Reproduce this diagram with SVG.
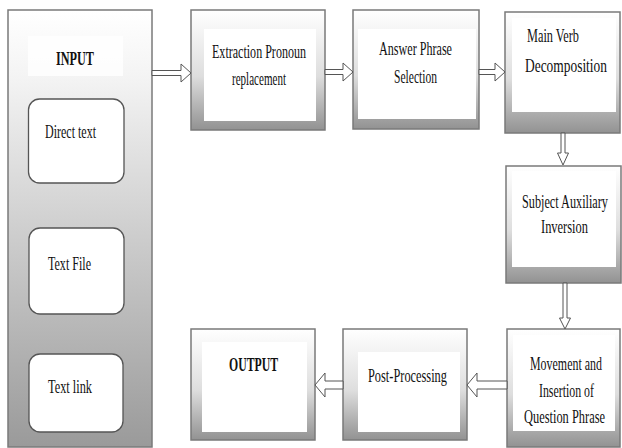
<svg xmlns="http://www.w3.org/2000/svg" width="622" height="448" viewBox="0 0 622 448">
<defs>
<linearGradient id="g" x1="0" y1="0" x2="0" y2="1">
<stop offset="0" stop-color="#ffffff"/>
<stop offset="0.55" stop-color="#dedede"/>
<stop offset="1" stop-color="#929292"/>
</linearGradient>
<linearGradient id="gi" x1="0" y1="0" x2="0" y2="1">
<stop offset="0" stop-color="#ffffff"/>
<stop offset="0.15" stop-color="#f4f4f4"/>
<stop offset="1" stop-color="#9a9a9a"/>
</linearGradient>
<style>
.box{fill:url(#g);stroke:#7a7a7a;stroke-width:1.5}
.inbox{fill:url(#gi);stroke:#7a7a7a;stroke-width:1.5}
.in{fill:#ffffff;stroke:none}
.sub{fill:#ffffff;stroke:#555555;stroke-width:1.3}
.t{font-family:"Liberation Serif","Times New Roman",serif;font-size:19px;fill:#111111}
.b{font-weight:bold}
.arr{fill:#ffffff;stroke:#555555;stroke-width:1}
</style>
</defs>
<g id="input">
<rect class="inbox" x="8" y="10" width="144" height="437"/>
<rect class="in" x="28" y="36" width="95" height="40" fill-opacity="0.8"/>
<text class="t b" transform="scale(0.62,1)" x="90.32" y="65" textLength="61.29" lengthAdjust="spacingAndGlyphs">INPUT</text>
</g>
<g id="direct-text">
<rect class="sub" x="28.5" y="99" width="95.5" height="84" rx="11"/>
<text class="t" transform="scale(0.62,1)" x="72.58" y="138" textLength="82.26" lengthAdjust="spacingAndGlyphs">Direct text</text>
</g>
<g id="text-file">
<rect class="sub" x="29" y="228" width="95" height="86" rx="11"/>
<text class="t" transform="scale(0.62,1)" x="77.42" y="270" textLength="69.35" lengthAdjust="spacingAndGlyphs">Text File</text>
</g>
<g id="text-link">
<rect class="sub" x="29" y="354" width="94" height="78" rx="11"/>
<text class="t" transform="scale(0.62,1)" x="77.42" y="393" textLength="70.97" lengthAdjust="spacingAndGlyphs">Text link</text>
</g>
<g id="extraction">
<rect class="box" x="191" y="10" width="134" height="120"/>
<rect class="in" x="204" y="29" width="112" height="92"/>
<text class="t" transform="scale(0.62,1)" x="341.94" y="58" textLength="151.61" lengthAdjust="spacingAndGlyphs">Extraction Pronoun</text>
<text class="t" transform="scale(0.62,1)" x="374.19" y="85" textLength="87.10" lengthAdjust="spacingAndGlyphs">replacement</text>
</g>
<g id="answer">
<rect class="box" x="353" y="10" width="126" height="119"/>
<rect class="in" x="358" y="29" width="118" height="90"/>
<text class="t" transform="scale(0.62,1)" x="611.29" y="55" textLength="117.74" lengthAdjust="spacingAndGlyphs">Answer Phrase</text>
<text class="t" transform="scale(0.62,1)" x="635.48" y="83" textLength="69.35" lengthAdjust="spacingAndGlyphs">Selection</text>
</g>
<g id="main-verb">
<rect class="box" x="505" y="12" width="115" height="121"/>
<rect class="in" x="512" y="18" width="104" height="94"/>
<text class="t" transform="scale(0.62,1)" x="850" y="42" textLength="83.87" lengthAdjust="spacingAndGlyphs">Main Verb</text>
<text class="t" transform="scale(0.62,1)" x="846.77" y="72" textLength="132.26" lengthAdjust="spacingAndGlyphs">Decomposition</text>
</g>
<g id="subject">
<rect class="box" x="506" y="166" width="115" height="117"/>
<rect class="in" x="512" y="171" width="104" height="96"/>
<text class="t" transform="scale(0.62,1)" x="841.94" y="208" textLength="138.71" lengthAdjust="spacingAndGlyphs">Subject Auxiliary</text>
<text class="t" transform="scale(0.62,1)" x="872.58" y="233" textLength="75.81" lengthAdjust="spacingAndGlyphs">Inversion</text>
</g>
<g id="movement">
<rect class="box" x="507" y="329" width="113" height="118"/>
<rect class="in" x="513" y="335" width="102" height="96"/>
<text class="t" transform="scale(0.62,1)" x="854.84" y="370" textLength="116.13" lengthAdjust="spacingAndGlyphs">Movement and</text>
<text class="t" transform="scale(0.62,1)" x="869.35" y="397" textLength="88.71" lengthAdjust="spacingAndGlyphs">Insertion of</text>
<text class="t" transform="scale(0.62,1)" x="845.16" y="423" textLength="130.65" lengthAdjust="spacingAndGlyphs">Question Phrase</text>
</g>
<g id="post-processing">
<rect class="box" x="343" y="329" width="124" height="111"/>
<rect class="in" x="358" y="352" width="102" height="80"/>
<text class="t" transform="scale(0.62,1)" x="593.55" y="382" textLength="127.42" lengthAdjust="spacingAndGlyphs">Post-Processing</text>
</g>
<g id="output">
<rect class="box" x="191" y="329" width="124" height="111"/>
<rect class="in" x="202" y="342" width="105" height="90"/>
<text class="t b" transform="scale(0.62,1)" x="369.35" y="371" textLength="79.03" lengthAdjust="spacingAndGlyphs">OUTPUT</text>
</g>
<g id="connectors">
<polygon class="arr" points="152,70.5 181,70.5 181,64 191,73 181,82 181,75.5 152,75.5"/>
<polygon class="arr" points="325,69.5 343,69.5 343,63 353,72 343,81 343,74.5 325,74.5"/>
<polygon class="arr" points="479,69.5 495,69.5 495,63 505,72 495,81 495,74.5 479,74.5"/>
<polygon class="arr" points="561,133 561,153 557.5,153 563,165 568.5,153 565,153 565,133"/>
<polygon class="arr" points="563,283 563,318 559.5,318 565,329 570.5,318 567,318 567,283"/>
<polygon class="arr" points="507,381 477,381 477,373 467,385 477,397 477,389 507,389"/>
<polygon class="arr" points="343,381 325,381 325,373 315,385 325,397 325,389 343,389"/>
</g>
</svg>
